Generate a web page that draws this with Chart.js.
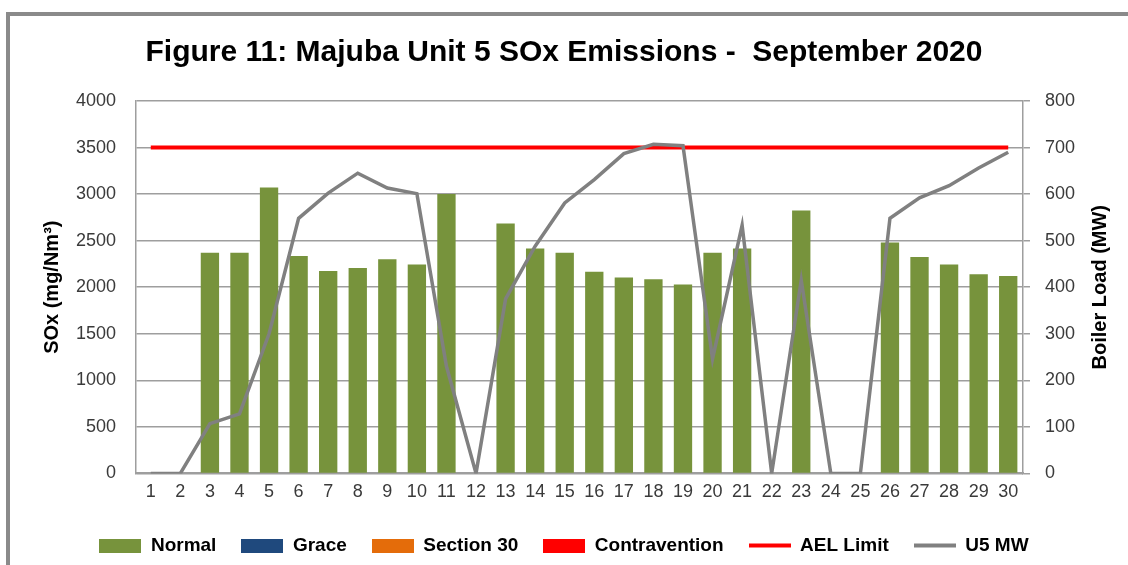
<!DOCTYPE html>
<html>
<head>
<meta charset="utf-8">
<script src="https://cdn.jsdelivr.net/npm/chart.js@4"></script>
<style>
  html, body { margin: 0; padding: 0; background: #fff; overflow: hidden; }
  #frame { position: absolute; left: 6px; top: 12px; width: 1200px; height: 700px; border: 4px solid #8a8a8a; }
  #soxChart { position: absolute; left: 0; top: 0; }
</style>
</head>
<body>
<div id="frame"></div>
<canvas id="soxChart" width="1128" height="565"></canvas>
<script>
const days = ['1', '2', '3', '4', '5', '6', '7', '8', '9', '10', '11', '12', '13', '14', '15',
  '16', '17', '18', '19', '20', '21', '22', '23', '24', '25', '26', '27', '28', '29', '30'];

// SOx (mg/Nm3) per day, left axis
const normalSox = [null, null, 2370, 2370, 3070, 2335, 2175, 2205, 2300, 2245, 3000, null, 2685, 2415, 2370,
  2165, 2105, 2085, 2030, 2370, 2415, null, 2825, null, null, 2480, 2325, 2245, 2140, 2120];
const graceSox = [];
const section30Sox = [];
const contraventionSox = [];
const aelLimit = [3500, 3500, 3500, 3500, 3500, 3500, 3500, 3500, 3500, 3500, 3500, 3500, 3500, 3500, 3500,
  3500, 3500, 3500, 3500, 3500, 3500, 3500, 3500, 3500, 3500, 3500, 3500, 3500, 3500, 3500];

// Boiler load (MW), right axis
const u5Load = [0, 0, 107, 128, 300, 548, 602, 645, 613, 601, 230, 0, 375, 488, 581,
  631, 687, 707, 704, 246, 533, 0, 415, 0, 0, 548, 592, 618, 656, 690];

const FONT = '"Liberation Sans", Arial, sans-serif';
const gridGray = '#9e9e9e';
const tickColor = '#3a3a3a';

// little legend swatches: boxes for bars, strokes for lines
function swatch(color, h) {
  const c = document.createElement('canvas');
  c.width = 42;
  c.height = 14;
  const g = c.getContext('2d');
  g.fillStyle = color;
  g.fillRect(0, (14 - h) / 2, 42, h);
  return c;
}
const swatches = [
  swatch('#77933C', 14),
  swatch('#1F497D', 14),
  swatch('#E46C0A', 14),
  swatch('#FF0000', 14),
  swatch('#FF0000', 4),
  swatch('#808080', 4)
];

// Chart.js puts right-hand titles top-to-bottom, the original reads upwards
const rightTitle = {
  id: 'rightTitle',
  afterDraw(chart) {
    const { ctx, chartArea } = chart;
    ctx.save();
    ctx.translate(chart.scales.y1.right - 28, (chartArea.top + chartArea.bottom) / 2);
    ctx.rotate(-Math.PI / 2);
    ctx.font = 'bold 20px ' + FONT;
    ctx.fillStyle = '#000';
    ctx.textAlign = 'center';
    ctx.textBaseline = 'middle';
    ctx.fillText('Boiler Load (MW)', 0, 0);
    ctx.restore();
  }
};

const ctx = document.getElementById('soxChart').getContext('2d');
new Chart(ctx, {
  type: 'bar',
  data: {
    labels: days,
    datasets: [
      { label: 'Normal', data: normalSox, backgroundColor: '#77933C', order: 6, yAxisID: 'y' },
      { label: 'Grace', data: graceSox, backgroundColor: '#1F497D', order: 5, yAxisID: 'y' },
      { label: 'Section 30', data: section30Sox, backgroundColor: '#E46C0A', order: 4, yAxisID: 'y' },
      { label: 'Contravention', data: contraventionSox, backgroundColor: '#FF0000', order: 3, yAxisID: 'y' },
      {
        type: 'line', label: 'AEL Limit', data: aelLimit, yAxisID: 'y', order: 2,
        borderColor: '#FF0000', backgroundColor: '#FF0000', borderWidth: 4,
        pointRadius: 0, tension: 0, fill: false
      },
      {
        type: 'line', label: 'U5 MW', data: u5Load, yAxisID: 'y1', order: 1,
        borderColor: '#808080', backgroundColor: '#808080', borderWidth: 3.5,
        pointRadius: 0, tension: 0, fill: false
      }
    ]
  },
  options: {
    responsive: false,
    animation: false,
    layout: { padding: { top: 0, left: 0, right: 0, bottom: 0 } },
    datasets: {
      bar: { categoryPercentage: 1, barPercentage: 0.62 }
    },
    plugins: {
      title: {
        display: true,
        text: 'Figure 11: Majuba Unit 5 SOx Emissions -  September 2020',
        color: '#000',
        font: { family: FONT, size: 30, weight: 'bold' },
        padding: { top: 35, bottom: 30 }
      },
      legend: {
        position: 'bottom',
        labels: {
          usePointStyle: true,
          pointStyleWidth: 42,
          boxHeight: 14,
          padding: 25,
          color: '#000',
          font: { family: FONT, size: 19, weight: 'bold' },
          sort: (a, b) => a.datasetIndex - b.datasetIndex,
          generateLabels(chart) {
            const items = Chart.defaults.plugins.legend.labels.generateLabels(chart);
            items.forEach(item => { item.pointStyle = swatches[item.datasetIndex]; });
            return items;
          }
        }
      },
      tooltip: { enabled: false }
    },
    scales: {
      x: {
        stacked: true,
        grid: { display: true, drawOnChartArea: false, drawTicks: false },
        border: { display: true, color: gridGray, width: 2 },
        ticks: {
          color: tickColor,
          font: { family: FONT, size: 18 },
          padding: 8,
          autoSkip: false,
          maxRotation: 0
        }
      },
      y: {
        stacked: true,
        position: 'left',
        min: 0,
        max: 4000,
        grid: { color: gridGray, lineWidth: 1.5, drawTicks: false },
        border: { display: true, color: gridGray, width: 1.5 },
        ticks: {
          stepSize: 500,
          color: tickColor,
          font: { family: FONT, size: 18 },
          padding: 20,
          callback: v => String(v)
        },
        title: {
          display: true,
          text: 'SOx (mg/Nm³)',
          color: '#000',
          font: { family: FONT, size: 20, weight: 'bold' },
          padding: { top: 40, bottom: 0 }
        },
        afterFit(scale) { scale.width = 136; }
      },
      y1: {
        position: 'right',
        min: 0,
        max: 800,
        grid: { drawOnChartArea: false, drawTicks: true, tickLength: 7, color: gridGray, lineWidth: 1.5 },
        border: { display: true, color: gridGray, width: 1.5 },
        ticks: {
          stepSize: 100,
          color: tickColor,
          font: { family: FONT, size: 18 },
          padding: 15,
          callback: v => String(v)
        },
        afterFit(scale) { scale.width = 105; }
      }
    }
  },
  plugins: [rightTitle]
});
</script>
</body>
</html>
